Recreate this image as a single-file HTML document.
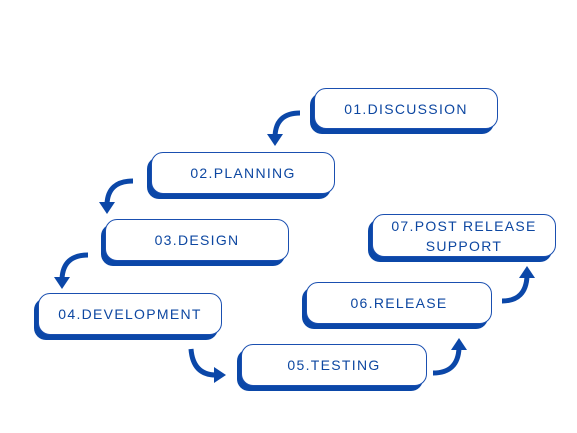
<!DOCTYPE html>
<html><head><style>
body{margin:0;width:577px;height:433px;background:#fff;position:relative;overflow:hidden;font-family:"Liberation Sans",sans-serif}
.b{position:absolute;background:#fff;border:1px solid #1a4fb0;border-radius:12px;box-shadow:-4px 5px 0 #0b47a8;color:#0d47a1;font-size:14px;letter-spacing:1.3px;display:flex;align-items:center;justify-content:center;text-align:center;line-height:20px;box-sizing:border-box}
svg{position:absolute;left:0;top:0}
</style></head><body>
<div class="b" style="left:314px;top:88px;width:184px;height:41px">01.DISCUSSION</div>
<div class="b" style="left:151px;top:152px;width:184px;height:42px">02.PLANNING</div>
<div class="b" style="left:105px;top:219px;width:184px;height:42px">03.DESIGN</div>
<div class="b" style="left:38px;top:293px;width:184px;height:42px">04.DEVELOPMENT</div>
<div class="b" style="left:241px;top:344px;width:186px;height:42px">05.TESTING</div>
<div class="b" style="left:306px;top:282px;width:186px;height:42px">06.RELEASE</div>
<div class="b" style="left:372px;top:214px;width:184px;height:43px">07.POST RELEASE<br>SUPPORT</div>
<svg width="577" height="433" fill="none" stroke="#0b47a8" stroke-width="5">
<path d="M300 113 Q276 113 275 136"/><path d="M267 134 L283 134 L275 146Z" fill="#0b47a8" stroke="none"/>
<path d="M133 181 Q108 181 107 204"/><path d="M99 202 L115 202 L107 214Z" fill="#0b47a8" stroke="none"/>
<path d="M88 255 Q63 255 62 279"/><path d="M54 277 L70 277 L62 289Z" fill="#0b47a8" stroke="none"/>
<path d="M191 349 Q193 375 216 375"/><path d="M214 367 L214 383 L226 375Z" fill="#0b47a8" stroke="none"/>
<path d="M433 373 Q458 373 459 348"/><path d="M451 350 L467 350 L459 338Z" fill="#0b47a8" stroke="none"/>
<path d="M502 301 Q526 301 527 276"/><path d="M519 278 L535 278 L527 266Z" fill="#0b47a8" stroke="none"/>
</svg>
</body></html>
